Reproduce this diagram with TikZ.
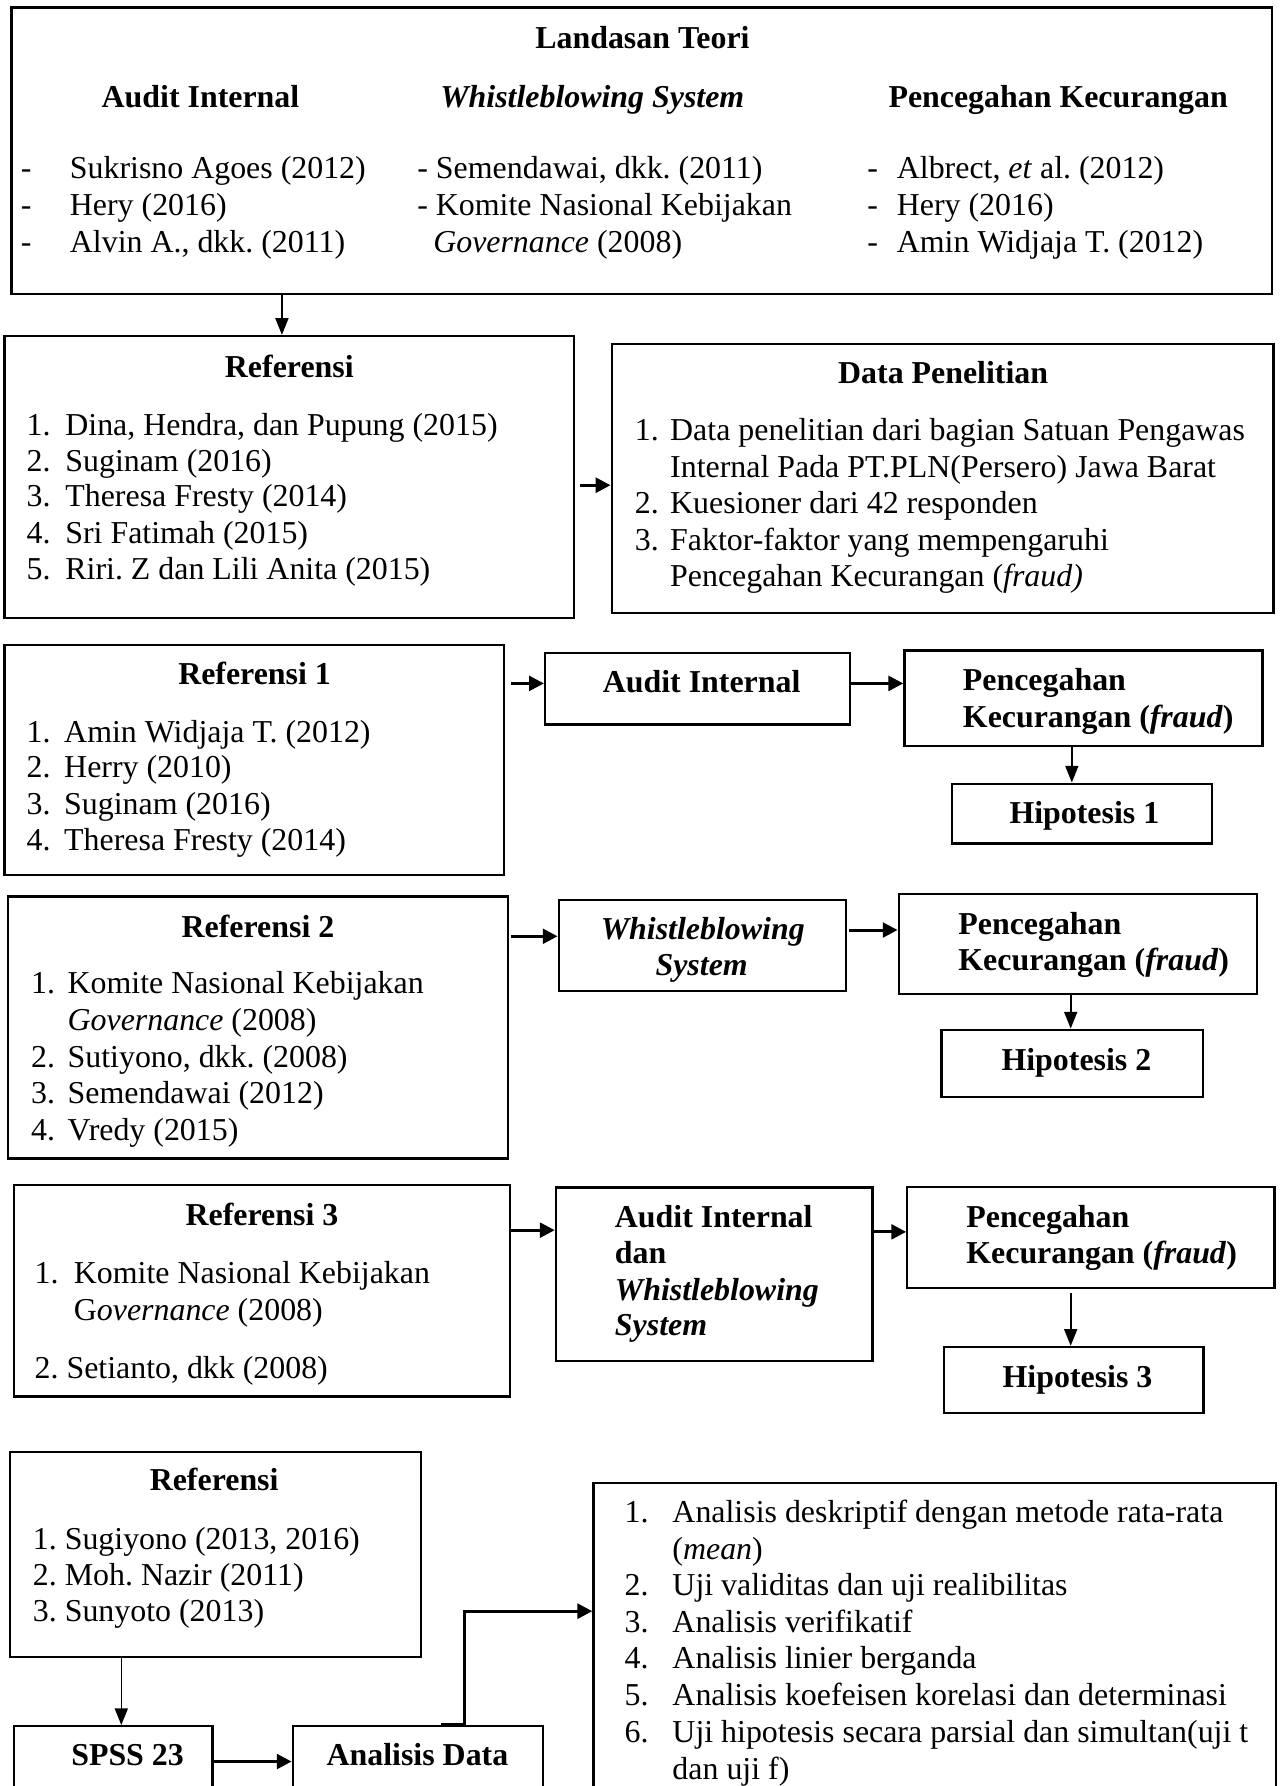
\documentclass[tikz,border=0pt]{standalone}
\usepackage{fontspec}
\setmainfont{Liberation Serif}
\usetikzlibrary{arrows.meta,fit}
\newcommand\fs{\fontsize{14}{16}\selectfont}
\tikzset{
  box/.style={draw, line width=1pt, inner sep=0pt},
  tx/.style={inner sep=0pt, anchor=base west, font=\fs},
  tc/.style={inner sep=0pt, anchor=base, font=\fs},
  arrthin/.style={-{Triangle[length=7.3pt,width=5.7pt]}, line width=0.7pt},
  arrthick/.style={-{Triangle[length=6.5pt,width=6.5pt]}, line width=1.3pt}
}
\begin{document}
\frenchspacing
\begin{tikzpicture}[x=0.5pt,y=-0.5pt]
\useasboundingbox (0,0) rectangle (1125,1568);
\clip (0,0) rectangle (1125,1568);
% ---------- boxes ----------
\node[box, fit={(10,6.5)(1117,258)}] (top) {};
\node[box, fit={(4,295)(504,542.5)}] (ref) {};
\node[box, fit={(537,302)(1118,538)}] (data) {};
\node[box, fit={(4,566)(442.5,768)}] (refa) {};
\node[box, fit={(478.5,573)(746,636)}] (aia) {};
\node[box, fit={(794,571)(1108.5,655)}] (pka) {};
\node[box, fit={(836,688)(1064,740.5)}] (hya) {};
\node[box, fit={(7,787)(446,1017)}] (refb) {};
\node[box, fit={(490.5,790)(742.5,870)}] (wsb) {};
\node[box, fit={(789,785)(1103.5,872.5)}] (pkb) {};
\node[box, fit={(826.5,904)(1056,963)}] (hyb) {};
\node[box, fit={(12,1040.5)(448,1226)}] (refc) {};
\node[box, fit={(488,1042.5)(766,1195)}] (aiwc) {};
\node[box, fit={(796.5,1042)(1119,1130.5)}] (pkc) {};
\node[box, fit={(828.5,1182.5)(1056.5,1240.5)}] (hyc) {};
\node[box, fit={(8.5,1274.5)(369.5,1455)}] (refd) {};
\node[box, fit={(12,1515.5)(186.5,1600)}] (spss) {};
\node[box, fit={(257,1515)(477,1600)}] (anl) {};
\node[box, fit={(521,1302)(1120.5,1600)}] (lst) {};
% ---------- top box text ----------
\node[tc] (t0) at (564,42.5) {\bfseries Landasan Teori};
\node[tc] (h1) at (176,94) {\bfseries Audit Internal};
\node[tc] (h2) at (520,94) {\bfseries\itshape Whistleblowing System};
\node[tc] (h3) at (929,94) {\bfseries Pencegahan Kecurangan};
\node[tx] (d1) at (18,157) {-};
\node[tx] (d2) at (18,189) {-};
\node[tx] (d3) at (18,222) {-};
\node[tx] (a1) at (61,157) {Sukrisno Agoes (2012)};
\node[tx] (a2) at (61,189) {Hery (2016)};
\node[tx] (a3) at (61,222) {Alvin A., dkk. (2011)};
\node[tx] (b1) at (366,157) {- Semendawai, dkk. (2011)};
\node[tx] (b2) at (366,189) {- Komite Nasional Kebijakan};
\node[tx] (b3) at (380,222) {\textit{Governance} (2008)};
\node[tx] (e1) at (761,157) {-};
\node[tx] (e2) at (761,189) {-};
\node[tx] (e3) at (761,222) {-};
\node[tx] (c1) at (787,157) {Albrect, \textit{et} al. (2012)};
\node[tx] (c2) at (787,189) {Hery (2016)};
\node[tx] (c3) at (787,222) {Amin Widjaja T. (2012)};
% ---------- Referensi ----------
\node[tc] (rt) at (254,331) {\bfseries Referensi};
\node[tx] (rn1) at (23,382) {1.};
\node[tx] (rn2) at (23,414) {2.};
\node[tx] (rn3) at (23,445) {3.};
\node[tx] (rn4) at (23,477) {4.};
\node[tx] (rn5) at (23,509) {5.};
\node[tx] (r1) at (57,382) {Dina, Hendra, dan Pupung (2015)};
\node[tx] (r2) at (57,414) {Suginam (2016)};
\node[tx] (r3) at (57,445) {Theresa Fresty (2014)};
\node[tx] (r4) at (57,477) {Sri Fatimah (2015)};
\node[tx] (r5) at (57,509) {Riri. Z dan Lili Anita (2015)};
% ---------- Data Penelitian ----------
\node[tc] (dt) at (828,336.5) {\bfseries Data Penelitian};
\node[tx] (dn1) at (557,387) {1.};
\node[tx] (dn2) at (557,451) {2.};
\node[tx] (dn3) at (557,483) {3.};
\node[tx] (dl1) at (588,387) {Data penelitian dari bagian Satuan Pengawas};
\node[tx] (dl2) at (588,419) {Internal Pada PT.PLN(Persero) Jawa Barat};
\node[tx] (dl3) at (588,451) {Kuesioner dari 42 responden};
\node[tx] (dl4) at (588,483) {Faktor-faktor yang mempengaruhi};
\node[tx] (dl5) at (588,515) {Pencegahan Kecurangan (\textit{fraud)}};
% ---------- Referensi 1 ----------
\node[tc] (rat) at (223.5,601) {\bfseries Referensi 1};
\node[tx] (ran1) at (23,652) {1.};
\node[tx] (ran2) at (23,683) {2.};
\node[tx] (ran3) at (23,715) {3.};
\node[tx] (ran4) at (23,747) {4.};
\node[tx] (ra1) at (56,652) {Amin Widjaja T. (2012)};
\node[tx] (ra2) at (56,683) {Herry (2010)};
\node[tx] (ra3) at (56,715) {Suginam (2016)};
\node[tx] (ra4) at (56,747) {Theresa Fresty (2014)};
\node[tc] (aiat) at (616,608) {\bfseries Audit Internal};
\node[tx] (pka1) at (845,606.5) {\bfseries Pencegahan};
\node[tx] (pka2) at (845,638.5) {\bfseries Kecurangan (\textit{fraud})};
\node[tc] (hyat) at (952,723) {\bfseries Hipotesis 1};
% ---------- Referensi 2 ----------
\node[tc] (rbt) at (226.5,823) {\bfseries Referensi 2};
\node[tx] (rbn1) at (27,872) {1.};
\node[tx] (rbn2) at (27,937) {2.};
\node[tx] (rbn3) at (27,969) {3.};
\node[tx] (rbn4) at (27,1001.5) {4.};
\node[tx] (rb1) at (59,872) {Komite Nasional Kebijakan};
\node[tx] (rb2) at (59,904.5) {\textit{Governance} (2008)};
\node[tx] (rb3) at (59,937) {Sutiyono, dkk. (2008)};
\node[tx] (rb4) at (59,969) {Semendawai (2012)};
\node[tx] (rb5) at (59,1001.5) {Vredy (2015)};
\node[tc] (wsb1) at (617,824.5) {\bfseries\itshape Whistleblowing};
\node[tc] (wsb2) at (616,856.5) {\bfseries\itshape System};
\node[tx] (pkb1) at (841,820) {\bfseries Pencegahan};
\node[tx] (pkb2) at (841,852) {\bfseries Kecurangan (\textit{fraud})};
\node[tc] (hybt) at (945,940) {\bfseries Hipotesis 2};
% ---------- Referensi 3 ----------
\node[tc] (rct) at (230,1076) {\bfseries Referensi 3};
\node[tx] (rcn1) at (30,1126.5) {1.};
\node[tx] (rc1) at (64.5,1126.5) {Komite Nasional Kebijakan};
\node[tx] (rc2) at (64.5,1159) {G\textit{overnance} (2008)};
\node[tx] (rc3) at (30,1210.5) {2. Setianto, dkk (2008)};
\node[tx] (aic1) at (539.5,1077.5) {\bfseries Audit Internal};
\node[tx] (aic2) at (539.5,1109.5) {\bfseries dan};
\node[tx] (aic3) at (539.5,1141.5) {\bfseries\itshape Whistleblowing};
\node[tx] (aic4) at (539.5,1172.5) {\bfseries\itshape System};
\node[tx] (pkc1) at (848,1077.5) {\bfseries Pencegahan};
\node[tx] (pkc2) at (848,1109.5) {\bfseries Kecurangan (\textit{fraud})};
\node[tc] (hyct) at (946,1218) {\bfseries Hipotesis 3};
% ---------- bottom ----------
\node[tc] (rdt) at (188,1308.5) {\bfseries Referensi};
\node[tx] (rd1) at (28.5,1360) {1. Sugiyono (2013, 2016)};
\node[tx] (rd2) at (28.5,1392) {2. Moh. Nazir (2011)};
\node[tx] (rd3) at (28.5,1424) {3. Sunyoto (2013)};
\node[tc] (spt) at (112,1550) {\bfseries SPSS 23};
\node[tc] (ant) at (366.5,1550) {\bfseries Analisis Data};
\node[tx] (ln1) at (548,1337) {1.};
\node[tx] (ln2) at (548,1401) {2.};
\node[tx] (ln3) at (548,1433) {3.};
\node[tx] (ln4) at (548,1465) {4.};
\node[tx] (ln5) at (548,1497) {5.};
\node[tx] (ln6) at (548,1529.5) {6.};
\node[tx] (l1) at (590,1337) {Analisis deskriptif dengan metode rata-rata};
\node[tx] (l1b) at (590,1369) {(\textit{mean})};
\node[tx] (l2) at (590,1401) {Uji validitas dan uji realibilitas};
\node[tx] (l3) at (590,1433) {Analisis verifikatif};
\node[tx] (l4) at (590,1465) {Analisis linier berganda};
\node[tx] (l5) at (590,1497) {Analisis koefeisen korelasi dan determinasi};
\node[tx] (l6) at (590,1529.5) {Uji hipotesis secara parsial dan simultan(uji t};
\node[tx] (l6b) at (590,1562) {dan uji f)};
% ---------- connectors ----------
\draw[arrthin] (247.5,0 |- top.south) -- (247.5,0 |- ref.north);
\draw[arrthick, shorten <=2pt] (ref.east |- 0,426) -- (data.west |- 0,426);
\draw[arrthick, shorten <=2.5pt] (refa.east |- 0,600) -- (aia.west |- 0,600);
\draw[arrthick] (aia.east |- 0,600) -- (pka.west |- 0,600);
\draw[arrthin] (941,0 |- pka.south) -- (941,0 |- hya.north);
\draw[arrthick, shorten <=1pt] (refb.east |- 0,822) -- (wsb.west |- 0,822);
\draw[arrthick, shorten <=1pt] (wsb.east |- 0,816.5) -- (pkb.west |- 0,816.5);
\draw[arrthin] (940,0 |- pkb.south) -- (940,0 |- hyb.north);
\draw[arrthick] (refc.east |- 0,1080) -- (aiwc.west |- 0,1080);
\draw[arrthick] (aiwc.east |- 0,1081.5) -- (pkc.west |- 0,1081.5);
\draw[arrthin, shorten <=2pt] (940,0 |- pkc.south) -- (940,0 |- hyc.north);
\draw[arrthin] (106.5,0 |- refd.south) -- (106.5,0 |- spss.north);
\draw[arrthick] (spss.east |- 0,1546.5) -- (anl.west |- 0,1546.5);
\draw[arrthick] (387.5,0 |- anl.north) -- (407.5,0 |- anl.north) |- (lst.west |- 0,1414.5);
\end{tikzpicture}
\end{document}
